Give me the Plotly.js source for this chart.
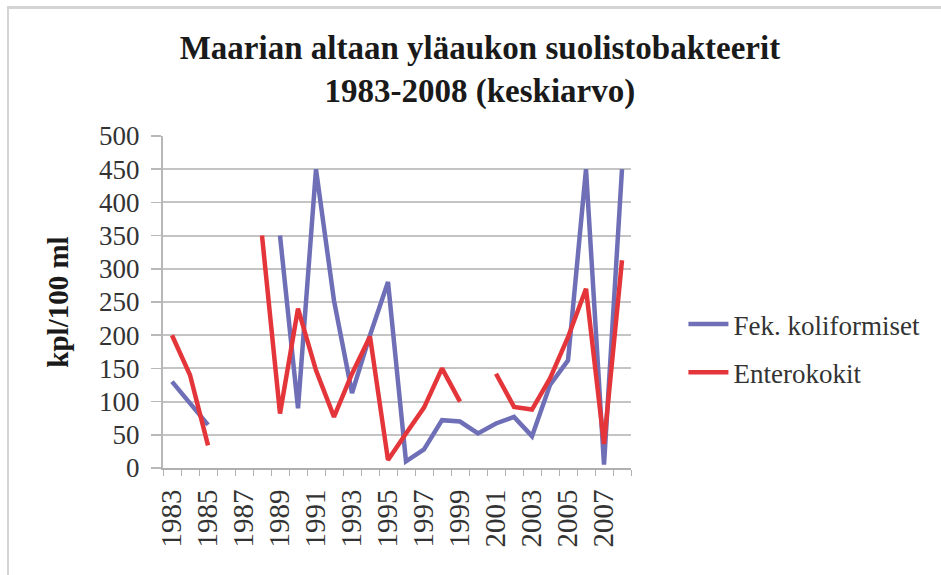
<!DOCTYPE html>
<html>
<head>
<meta charset="utf-8">
<script src="https://cdn.plot.ly/plotly-3.0.1.min.js"></script>
<style>
  html, body { margin: 0; padding: 0; background: #ffffff; }
  #chart { position: absolute; left: 0; top: 0; width: 941px; height: 575px; }
  #frame { position: absolute; left: 7px; top: 6px; width: 960px; height: 600px;
           border-left: 2px solid #d4d4d4; border-top: 3px solid #d4d4d4; pointer-events: none; }
</style>
</head>
<body>
<div id="chart"></div>
<div id="frame"></div>
<script>
const years = ['1983','1984','1985','1986','1987','1988','1989','1990','1991','1992','1993','1994','1995',
               '1996','1997','1998','1999','2000','2001','2002','2003','2004','2005','2006','2007','2008'];
const fekKoliformiset = [130, 98, 65, null, null, null, 350, 90, 450, 252, 113, 200, 280,
                         10, 28, 72, 70, 52, 67, 77, 48, 125, 162, 450, 5, 450];
const enterokokit = [200, 140, 34, null, null, 350, 82, 240, 147, 77, 142, 198, 12,
                     52, 91, 150, 100, null, 142, 92, 88, 135, 197, 270, 36, 313];
const seriesNames = ['Fek. koliformiset', 'Enterokokit'];
const xTickText = years.map((y, i) => (i % 2 === 0 ? y : ''));
const yTicks = [0, 50, 100, 150, 200, 250, 300, 350, 400, 450, 500];

const serif = '"Liberation Serif", "Times New Roman", Times, serif';

const traces = [
  { x: years, y: fekKoliformiset, name: seriesNames[0], type: 'scatter', mode: 'lines',
    line: { color: '#6f6fb7', width: 4.5 }, connectgaps: false, legendgroup: 'a' },
  { x: years, y: enterokokit, name: seriesNames[1], type: 'scatter', mode: 'lines',
    line: { color: '#e4363a', width: 4.5 }, connectgaps: false, legendgroup: 'b' }
];

const layout = {
  width: 941, height: 575,
  paper_bgcolor: 'rgba(0,0,0,0)', plot_bgcolor: '#ffffff',
  margin: { l: 163, r: 310, t: 136, b: 107, pad: 0 },
  title: {
    text: '<b>Maarian altaan yläaukon suolistobakteerit<br>1983-2008 (keskiarvo)</b>',
    font: { family: serif, size: 33, color: '#1a1a1a' },
    x: 0.51, xref: 'container', xanchor: 'center', yref: 'container', y: 0.897, yanchor: 'middle'
  },
  xaxis: {
    type: 'category', tickmode: 'array', tickvals: years, ticktext: xTickText,
    tickangle: -90, tickson: 'boundaries', ticks: 'outside', ticklen: 6, tickcolor: '#b0b0b0',
    showline: true, linecolor: '#b0b0b0', linewidth: 2, showgrid: false,
    tickfont: { family: serif, size: 29, color: '#333333' }, ticklabelstandoff: 8, automargin: false,
    range: [-0.5, 25.5], fixedrange: true
  },
  yaxis: {
    range: [0, 500], tickmode: 'array', tickvals: yTicks,
    ticks: 'outside', ticklen: 10, tickcolor: '#b8b8b8', tickwidth: 1.5,
    showline: true, linecolor: '#b8b8b8', linewidth: 2,
    showgrid: true, gridcolor: '#c4c4c4', gridwidth: 2, zeroline: false,
    tickfont: { family: serif, size: 27, color: '#333333' }, ticklabelstandoff: 6,
    title: { text: '<b>kpl/100 ml</b>', font: { family: serif, size: 29, color: '#1a1a1a' }, standoff: 22 },
    automargin: false, fixedrange: true
  },
  legend: {
    x: 1.112, xanchor: 'left', y: 0.36, yanchor: 'middle',
    font: { family: serif, size: 27, color: '#333333' },
    traceorder: 'grouped', tracegroupgap: 10, bgcolor: 'rgba(0,0,0,0)', itemwidth: 40
  },
  showlegend: true
};

Plotly.newPlot('chart', traces, layout, { displayModeBar: false, staticPlot: true });
</script>
</body>
</html>
